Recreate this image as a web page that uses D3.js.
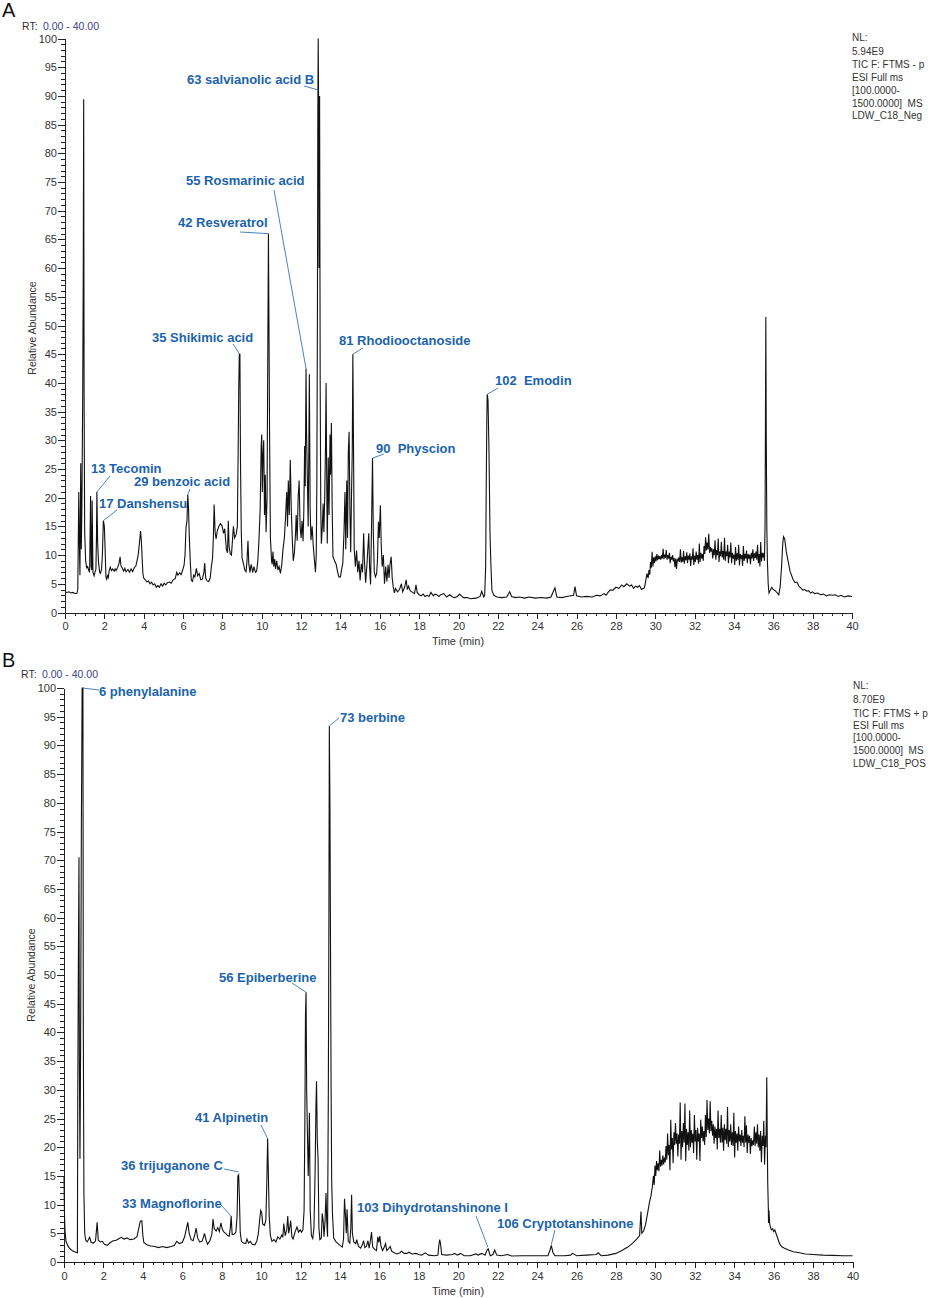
<!DOCTYPE html>
<html>
<head>
<meta charset="utf-8">
<title>TIC chromatograms</title>
<script src="https://cdn.jsdelivr.net/npm/d3@7/dist/d3.min.js"></script>
<style>
  html, body { margin: 0; padding: 0; background: #fff; }
  text { font-family: "Liberation Sans", Arial, sans-serif; }
  .axis path, .axis line { stroke: #222; stroke-width: 1; shape-rendering: crispEdges; }
  .axis text { font-size: 11px; fill: #333; }
  .trace { fill: none; stroke: #111; stroke-width: 1.1; stroke-linejoin: miter; }
  .lab { font-size: 13px; font-weight: bold; fill: #1b63ad; }
  .leader { stroke: #1b63ad; stroke-width: 0.8; fill: none; }
  .info { font-size: 10px; fill: #333; }
</style>
</head>
<body>
<svg id="chart" width="934" height="1298"></svg>
<script>
// panel A, negative mode: [rt, abundance]
var traceA0to5 = [[0,3.6],[0.1,3.5],[0.2,3.6],[0.3,3.4],[0.4,3.5],[0.5,3.3],[0.6,3.3],[0.65,4],[0.7,21],[0.73,12],[0.76,6.5],[0.8,26],[0.83,11],[0.86,19],[0.9,38],[0.93,61],[0.95,89.4],[0.97,38],[1,14],[1.05,9],[1.1,7.8],[1.15,8],[1.2,7.4],[1.25,7],[1.3,20.3],[1.33,8],[1.36,7.4],[1.38,19.5],[1.42,7],[1.48,6.4],[1.52,7],[1.57,7.5],[1.6,13],[1.62,21],[1.66,12],[1.7,9],[1.76,7],[1.8,6.8],[1.86,7.6],[1.9,10],[1.95,16],[2,15],[2.03,12],[2.08,6.2],[2.12,5.8],[2.16,6.4],[2.2,6.1],[2.25,7.4],[2.3,7.9],[2.36,7.3],[2.42,7.6],[2.5,7.2],[2.55,7.6],[2.6,7.3],[2.68,7.9],[2.75,8.6],[2.8,9.7],[2.84,8.2],[2.9,7.8],[2.98,7.2],[3.04,7.7],[3.1,7.1],[3.2,7.5],[3.28,7],[3.36,7.6],[3.44,7.1],[3.52,7.8],[3.6,8.1],[3.66,9],[3.72,10],[3.78,12],[3.84,14.2],[3.88,12.6],[3.92,9.5],[3.96,6.8],[4,6],[4.08,5.7],[4.16,5.3],[4.24,5.5],[4.32,5],[4.4,5.3],[4.48,4.8],[4.56,5],[4.64,4.4],[4.72,4.7],[4.8,4.4],[4.88,5],[4.96,4.6],[5.04,5.1],[5.12,4.8],[5.2,5.2],[5.3,5.3],[5.4,5.1],[5.5,5.7],[5.6,5.9],[5.68,7],[5.74,6.5],[5.82,6.9],[5.9,6.6],[5.98,7.4],[6.05,8.2],[6.1,10],[6.15,14.8],[6.2,16],[6.24,20.5],[6.28,18],[6.32,13],[6.37,8.6],[6.42,5.6],[6.48,5.4],[6.54,6.5],[6.6,6.2],[6.68,7.7],[6.74,6.4],[6.82,6.8],[6.9,5.7],[6.98,5.8],[7.06,7],[7.1,8.6],[7.15,6],[7.22,5.5],[7.3,5.4],[7.38,6],[7.44,8],[7.5,9.5],[7.54,13],[7.58,18.8],[7.63,14],[7.68,12.8],[7.74,14.2],[7.82,15],[7.9,15.5],[7.98,15.1],[8.06,13.8],[8.12,14.6],[8.2,11],[8.26,10.4],[8.3,16],[8.34,11.5],[8.4,10.2],[8.46,10],[8.52,13],[8.56,15],[8.62,13],[8.7,13.6],[8.76,15],[8.8,28],[8.83,39],[8.86,45],[8.89,45],[8.92,26],[8.96,14],[9,9.5],[9.06,8.6],[9.14,7.4],[9.2,7.1],[9.25,9],[9.3,12.5],[9.34,8.6],[9.4,7],[9.46,8.4],[9.54,7],[9.6,8],[9.68,7],[9.74,7.2]];
var traceA10to18 = [[9.8,9],[9.85,12],[9.92,18],[9.97,29],[10,31],[10.03,21],[10.06,27],[10.1,30],[10.14,17],[10.18,24],[10.22,14],[10.27,20],[10.31,47],[10.34,66],[10.37,48],[10.4,30],[10.44,13],[10.5,9],[10.53,8.4],[10.57,10.6],[10.61,8],[10.66,9.3],[10.7,7.6],[10.76,9],[10.82,7.4],[10.88,8],[10.95,6.8],[11.02,8.4],[11.08,11],[11.15,13],[11.2,16],[11.27,21],[11.31,15],[11.35,23],[11.4,17],[11.45,26.6],[11.5,18],[11.55,13],[11.6,9],[11.66,10.4],[11.72,14],[11.75,17],[11.8,12.5],[11.85,20],[11.9,23],[11.95,15],[12,13],[12.05,16],[12.1,12.4],[12.14,18],[12.18,29],[12.21,22],[12.25,42.5],[12.28,31],[12.32,23],[12.36,15],[12.39,27],[12.42,41.5],[12.46,18],[12.5,12.6],[12.56,15],[12.62,11.5],[12.68,9],[12.73,7],[12.77,10],[12.8,22.5],[12.83,52],[12.85,87],[12.87,100],[12.89,88],[12.91,60],[12.94,90],[12.97,40],[13,18],[13.03,12],[13.08,15],[13.12,19],[13.16,14],[13.2,20],[13.24,29],[13.27,40],[13.3,24],[13.33,12],[13.38,27],[13.42,17],[13.47,31],[13.5,24],[13.54,33],[13.58,18],[13.62,9.7],[13.7,9],[13.78,8.4],[13.86,7],[13.92,6.2],[14,6.2],[14.06,7.5],[14.12,8.6],[14.18,14],[14.23,21],[14.27,11],[14.32,23],[14.36,13],[14.4,28],[14.44,31.5],[14.48,18],[14.52,10.5],[14.56,20],[14.6,28],[14.63,45],[14.66,31],[14.7,11],[14.76,8],[14.82,10.8],[14.88,7],[14.94,9],[15,5.6],[15.06,8.5],[15.12,7],[15.18,13.8],[15.22,9],[15.28,5.2],[15.34,8],[15.39,11],[15.44,13.8],[15.48,8],[15.53,4.9],[15.58,15],[15.63,26.9],[15.67,14],[15.72,7],[15.78,6.2],[15.84,6.8],[15.88,9],[15.93,15.8],[15.97,13],[16.03,18.7],[16.07,12],[16.12,8],[16.18,10],[16.24,5],[16.3,8],[16.36,5.4],[16.42,8.3],[16.47,6],[16.52,8.4],[16.58,9.7],[16.63,6],[16.68,4.5],[16.74,3.4],[16.8,4.2],[16.9,3.6],[17,4],[17.1,5],[17.16,3.6],[17.26,4.4],[17.34,5.7],[17.4,4],[17.46,4.6],[17.54,3.8],[17.66,3.5],[17.76,3.3],[17.84,4.8],[17.9,3.5],[18,3.1]];
var traceA18to30 = [[18.1,2.9],[18.2,3.2],[18.3,2.8],[18.4,3],[18.5,2.8],[18.6,3.5],[18.72,2.9],[18.8,3.2],[18.9,3.1],[19,2.8],[19.1,3.1],[19.25,3.3],[19.4,2.7],[19.55,3.1],[19.7,2.7],[19.8,2.6],[19.95,2.8],[20.05,3.2],[20.25,2.6],[20.45,2.6],[20.6,2.4],[20.9,2.5],[21.1,2.8],[21.18,3.7],[21.28,2.7],[21.33,3],[21.38,8],[21.41,22],[21.44,34],[21.46,38],[21.5,37],[21.55,28],[21.6,14],[21.65,8],[21.7,3.8],[21.8,3],[21.95,2.7],[22.2,2.6],[22.45,2.7],[22.6,3.6],[22.7,2.8],[22.9,2.6],[23.1,2.7],[23.35,2.5],[23.6,2.7],[23.9,2.5],[24.2,2.6],[24.5,2.5],[24.7,2.7],[24.9,4.3],[25,2.7],[25.25,2.6],[25.5,2.8],[25.85,3],[25.92,4.5],[26,2.9],[26.25,2.7],[26.5,2.8],[26.8,2.7],[27,3],[27.2,2.9],[27.4,3.3],[27.5,3],[27.6,3.5],[27.7,3.9],[27.85,3.9],[28,4.4],[28.15,4.2],[28.3,4.8],[28.4,4.5],[28.55,5],[28.7,4.6],[28.8,4.8],[28.9,4.2],[29,4.6],[29.1,4.4],[29.2,4.7],[29.3,4],[29.45,4.3],[29.52,5.6],[29.58,6.8],[29.64,6]];
var traceANoise = [[29.68,7.4],[29.72,6.6],[29.76,8.8],[29.8,7.8],[29.84,10.6],[29.88,8],[29.92,9.6],[29.96,8.6],[30,9.8],[30.04,8.9],[30.08,10.2],[30.12,9.1],[30.16,9.9],[30.2,9.3],[30.24,9.8],[30.28,9.2],[30.32,10],[30.36,9.4],[30.4,11.1],[30.44,9.3],[30.48,10.1],[30.52,9.5],[30.56,10.9],[30.6,9.2],[30.64,10],[30.68,9.4],[30.72,10.4],[30.76,8.6],[30.8,9.7],[30.84,9.2],[30.88,10],[30.92,8.9],[30.96,9.5],[31,7.9],[31.04,9.4],[31.08,7.6],[31.12,9.2],[31.16,9],[31.2,9.6],[31.24,8.8],[31.28,11],[31.32,8.7],[31.36,9.6],[31.4,8.8],[31.44,10.7],[31.48,8.5],[31.52,9.8],[31.56,9.1],[31.6,10.5],[31.64,8.6],[31.68,9.9],[31.72,9.2],[31.76,10.3],[31.8,8.1],[31.84,9.8],[31.88,9.2],[31.92,11.2],[31.96,8.3],[32,9.9],[32.04,8.8],[32.08,10.6],[32.12,9.2],[32.16,10],[32.2,8.5],[32.24,12],[32.28,8.8],[32.32,10.4],[32.36,9.4],[32.4,10.2],[32.44,9],[32.48,11.6],[32.52,10.2],[32.56,13.1],[32.6,10.8],[32.64,12.2],[32.68,11],[32.72,13.7],[32.76,10.4],[32.8,11.4],[32.84,10.6],[32.88,11.2],[32.92,9.4],[32.96,11],[33,10],[33.04,12.6],[33.08,9.2],[33.12,10.9],[33.16,10],[33.2,12.9],[33.24,8.8],[33.28,10.6],[33.32,9.8],[33.36,12.3],[33.4,9.6],[33.44,10.7],[33.48,9.2],[33.52,13],[33.56,9],[33.6,10.6],[33.64,9.8],[33.68,11.8],[33.72,8.6],[33.76,10.6],[33.8,9.6],[33.84,12.2],[33.88,8.6],[33.92,10.4],[33.96,9.4],[34,10.1],[34.04,8.3],[34.08,11.4],[34.12,9],[34.16,10.3],[34.2,9.2],[34.24,11.8],[34.28,8.2],[34.32,10.2],[34.36,9.4],[34.4,10],[34.44,8.1],[34.48,11.6],[34.52,9],[34.56,10.2],[34.6,9.4],[34.64,10.8],[34.68,8.6],[34.72,10.2],[34.76,9.4],[34.8,10.1],[34.84,8.4],[34.88,10.4],[34.92,9.4],[34.96,11],[35,9],[35.04,10.3],[35.08,9.5],[35.12,10.6],[35.16,9.2],[35.2,11.8],[35.24,8.6],[35.28,10.2],[35.32,8],[35.36,12.3],[35.4,8.9],[35.44,10.4],[35.48,9.6],[35.52,10.4],[35.55,9]];
var traceAEnd = [[35.58,15],[35.6,32],[35.62,51.5],[35.64,32],[35.67,15],[35.7,9],[35.74,5],[35.78,3.4],[35.85,3.9],[35.92,4.4],[36,4],[36.1,3.8],[36.2,3.4],[36.28,3.1],[36.35,4.5],[36.42,8],[36.48,12],[36.52,13.2],[36.58,12.8],[36.66,10.6],[36.75,9],[36.85,7.2],[37,5.8],[37.1,5.2],[37.2,5.3],[37.3,4.6],[37.4,4.3],[37.5,3.9],[37.6,4],[37.7,3.7],[37.8,3.8],[37.9,3.4],[38,3.6],[38.1,3.3],[38.25,3.4],[38.4,3.1],[38.55,3.2],[38.7,2.9],[38.85,3.1],[39,3],[39.15,3.1],[39.3,2.8],[39.45,3],[39.6,2.7],[39.8,2.9],[40,2.8]];

// panel B, positive mode: [rt, abundance]
var traceB0to10 = [[0,15],[0.02,9],[0.05,5.5],[0.1,3.6],[0.2,2.8],[0.3,2.3],[0.45,1.9],[0.6,1.7],[0.68,1.6],[0.7,30],[0.73,53],[0.76,70.5],[0.78,35],[0.81,18],[0.84,36],[0.88,75],[0.92,100],[0.96,100],[0.98,40],[1.01,12],[1.05,5],[1.1,3.8],[1.18,3.5],[1.3,4.3],[1.38,3.4],[1.5,3.3],[1.6,3.7],[1.68,6.9],[1.74,3.8],[1.85,3.5],[1.95,3.6],[2.05,3.1],[2.2,2.9],[2.35,3.4],[2.5,3.7],[2.65,3.8],[2.8,4.1],[2.9,4.3],[3.05,4],[3.2,4.2],[3.35,3.9],[3.55,4],[3.7,4.4],[3.8,6],[3.87,7.1],[3.95,7.2],[4,4.6],[4.05,3.4],[4.2,3],[4.4,2.8],[4.6,2.7],[4.8,2.5],[5,2.7],[5.2,2.5],[5.45,2.7],[5.6,2.9],[5.72,3.6],[5.85,3.2],[6,3.4],[6.12,4.4],[6.22,6],[6.28,6.9],[6.35,5],[6.45,3.9],[6.55,3.7],[6.65,5],[6.7,5.9],[6.78,4.2],[6.88,3.5],[7,3.6],[7.08,4.4],[7.13,5],[7.2,3.9],[7.28,3.1],[7.4,3.7],[7.5,4.8],[7.56,7.5],[7.62,5.8],[7.72,5.4],[7.8,6],[7.88,5.3],[7.96,6.8],[8.04,5.6],[8.12,5.2],[8.2,5],[8.3,4.6],[8.38,4.5],[8.44,6],[8.48,8],[8.53,4.8],[8.62,4.8],[8.72,5.2],[8.78,8],[8.82,15],[8.86,15.2],[8.9,11],[8.94,5.2],[9,3.6],[9.1,3.3],[9.22,3.2],[9.28,4],[9.36,3.3],[9.45,3.6],[9.55,3.1],[9.68,3],[9.78,3.6],[9.86,5],[9.93,7.5],[9.98,9],[10.03,8.6],[10.08,6.6],[10.17,6.4],[10.24,7.3],[10.29,14],[10.33,21.5],[10.37,15],[10.41,8],[10.47,4.6]];
var traceB10to18 = [[10.55,3.6],[10.65,3.9],[10.75,3.5],[10.85,4.4],[10.95,4],[11.05,4.7],[11.1,4.3],[11.15,6.7],[11.22,4.6],[11.3,5.6],[11.35,8],[11.4,5],[11.46,6.2],[11.5,7.2],[11.56,4.4],[11.62,4],[11.72,5.2],[11.82,6.1],[11.9,5.2],[11.98,5.6],[12.05,5.2],[12.12,5.6],[12.18,9],[12.22,25],[12.25,43],[12.28,47],[12.31,30],[12.35,22],[12.39,15],[12.42,20],[12.45,26],[12.49,9],[12.55,4.6],[12.62,4.1],[12.68,6],[12.74,16],[12.78,27],[12.81,31.5],[12.85,21],[12.89,18],[12.93,6],[12.98,3.9],[13.05,4.1],[13.1,8.5],[13.15,7],[13.19,4.4],[13.24,7],[13.29,12],[13.33,7],[13.37,4.4],[13.41,30],[13.44,62],[13.46,93.4],[13.49,80],[13.52,55],[13.55,30],[13.58,14],[13.62,8.4],[13.68,4.2],[13.78,3.6],[13.9,3.2],[14,2.9],[14.12,2.6],[14.18,4],[14.23,11],[14.28,8],[14.32,5],[14.36,9.2],[14.42,3.6],[14.5,3.3],[14.55,6],[14.59,11.7],[14.63,5],[14.7,3.5],[14.8,3.2],[14.85,3.9],[14.94,2.7],[15.05,2.4],[15.13,3],[15.2,3.7],[15.26,2.5],[15.34,2.7],[15.42,3.7],[15.48,2.4],[15.55,3.8],[15.6,5.2],[15.66,2.6],[15.76,2.2],[15.85,2],[15.92,4.4],[15.97,3.4],[16.02,4.5],[16.08,2.8],[16.16,2],[16.25,2.6],[16.31,3.2],[16.38,2],[16.46,2.3],[16.55,2.7],[16.62,1.9],[16.75,1.6],[16.9,1.4],[17.05,1.6],[17.12,1.9],[17.25,1.5],[17.4,1.5],[17.5,1.7],[17.65,1.4],[17.85,1.5],[18,1.3]];
var traceB18to29 = [[18.15,1.2],[18.32,1.6],[18.5,1.2],[18.8,1.1],[18.97,1.2],[19.02,3],[19.06,3.9],[19.1,3.2],[19.16,1.3],[19.4,1.2],[19.7,1.3],[19.82,1.5],[19.95,1.2],[20.12,1.5],[20.3,1.1],[20.6,1.1],[20.9,1.4],[21,1.2],[21.2,1.5],[21.36,1.2],[21.46,2.1],[21.52,2.3],[21.62,1.1],[21.76,1.3],[21.85,2.1],[21.95,1.2],[22.2,1.1],[22.5,1.3],[22.7,1.05],[23.2,1.1],[23.6,1.1],[24.2,1.1],[24.55,1.1],[24.65,2],[24.72,2.9],[24.8,1.7],[24.9,1.1],[25.4,1.1],[25.7,1.2],[25.8,1.5],[26,1.1],[26.5,1.2],[27,1.3],[27.1,1.6],[27.25,1.1],[27.6,1.2],[28,1.5],[28.3,2],[28.6,2.6],[28.85,3.3],[29.05,4],[29.2,4.6],[29.27,8.8],[29.31,5],[29.4,5.4],[29.5,6.5],[29.6,8.4]];
var traceBNoise = [[29.7,10.4],[29.78,11.6],[29.85,13.2],[29.9,15],[29.94,13.4],[29.98,16.8],[30.02,15],[30.06,17.6],[30.1,16],[30.14,17.2],[30.18,15.8],[30.22,19.4],[30.26,16.6],[30.3,17.8],[30.34,16.8],[30.38,18.6],[30.42,17],[30.46,18.2],[30.5,17.4],[30.54,20.2],[30.58,17.8],[30.62,22.4],[30.66,18.6],[30.7,20.4],[30.74,16],[30.78,24.8],[30.82,19.6],[30.86,21.6],[30.9,17.2],[30.94,22.6],[30.98,20.4],[31.02,24.2],[31.06,20.6],[31.1,22.4],[31.14,18.4],[31.18,22.2],[31.22,20.6],[31.26,27.8],[31.3,17.8],[31.34,22.8],[31.38,20],[31.42,24.2],[31.46,20.8],[31.5,27.6],[31.54,17.6],[31.58,23.2],[31.62,20.4],[31.66,22.6],[31.7,19.4],[31.74,26.4],[31.78,20],[31.82,23],[31.86,20.8],[31.9,22.4],[31.94,19],[31.98,25.6],[32.02,21],[32.06,23],[32.1,17.8],[32.14,23.4],[32.18,21],[32.22,22.4],[32.26,17.6],[32.3,24.8],[32.34,21.6],[32.38,23.6],[32.42,21],[32.46,22.8],[32.5,20.4],[32.54,25.6],[32.58,21.8],[32.62,28.2],[32.66,23],[32.7,25],[32.74,22.4],[32.78,28],[32.82,22.8],[32.86,24.6],[32.9,22],[32.94,24],[32.98,20.6],[33.02,23.6],[33.06,21.6],[33.1,23.2],[33.14,19.6],[33.18,26.4],[33.22,21.6],[33.26,23.2],[33.3,20.8],[33.34,25.6],[33.38,20.8],[33.42,23.4],[33.46,19.4],[33.5,24],[33.54,21.2],[33.58,23.2],[33.62,20.6],[33.66,27],[33.7,20],[33.74,23],[33.78,21],[33.82,24],[33.86,20.4],[33.9,22.6],[33.94,20.2],[33.98,26],[34.02,18.2],[34.06,22.8],[34.1,20.8],[34.14,22.4],[34.18,19.4],[34.22,23.6],[34.26,21],[34.3,22.2],[34.34,20.2],[34.38,23],[34.42,20.8],[34.46,22],[34.5,20],[34.54,25.4],[34.58,20.8],[34.62,23.8],[34.66,19],[34.7,22.2],[34.74,20.8],[34.78,22],[34.82,18.8],[34.86,21.6],[34.9,20.2],[34.94,21.2],[34.98,20.4],[35.02,23.6],[35.06,20.2],[35.1,22.6],[35.14,20.6],[35.18,24],[35.22,20],[35.26,22.2],[35.3,19.4],[35.34,22.8],[35.38,17.4],[35.42,22],[35.46,20.2],[35.5,24.6],[35.54,17],[35.58,22],[35.61,20]];
var traceBEnd = [[35.63,25],[35.65,32.2],[35.68,20],[35.7,13.7],[35.73,9.4],[35.74,6.8],[35.76,9],[35.8,6.6],[35.88,5.6],[35.95,5.8],[36,5.3],[36.06,5.6],[36.14,4.8],[36.22,4],[36.3,3.2],[36.4,2.7],[36.55,2.4],[36.75,2.1],[37,1.8],[37.3,1.6],[37.6,1.4],[38,1.3],[38.5,1.2],[39,1.15],[39.5,1.1],[40,1.1]];

var traceA = traceA0to5.concat(traceA10to18, traceA18to30, traceANoise, traceAEnd);
var traceB = traceB0to10.concat(traceB10to18, traceB18to29, traceBNoise, traceBEnd);

var yTicks = [0,5,10,15,20,25,30,35,40,45,50,55,60,65,70,75,80,85,90,95,100];
var xTicks = [0,2,4,6,8,10,12,14,16,18,20,22,24,26,28,30,32,34,36,38,40];

// compound labels and the peak each one points at
var namesA = ["63 salvianolic acid B","55 Rosmarinic acid","42 Resveratrol","35 Shikimic acid","81 Rhodiooctanoside","102  Emodin","90  Physcion","13 Tecomin","29 benzoic acid","17 Danshensu"];
var peakRtA = [12.9,12.25,10.34,8.88,14.63,21.46,15.63,1.62,6.24,1.95];
var peakAbundanceA = [91,42.5,66,45,45,38,26.9,21,20.5,16];
var namesB = ["6 phenylalanine","73 berbine","56 Epiberberine","41 Alpinetin","36 trijuganone C","33 Magnoflorine","103 Dihydrotanshinone I","106 Cryptotanshinone"];
var peakRtB = [0.94,13.46,12.28,10.33,8.86,8.48,21.5,24.72];
var peakAbundanceB = [100,93.4,47,21.5,15.7,8,2.6,3];
var infoA = ["NL:","5.94E9","TIC F: FTMS - p","ESI Full ms","[100.0000-","1500.0000]  MS","LDW_C18_Neg"];
var infoB = ["NL:","8.70E9","TIC F: FTMS + p","ESI Full ms","[100.0000-","1500.0000]  MS","LDW_C18_POS"];

// label placement in px: text x, baseline y, leader start x, y
var placeA = [[187,84,304,86],[186,185,274,190],[178,227,240,232],[152,342,233,344],[339,345,363,348],[495,385,498,388],[376,453,384,454],[91,473,110,476],[134,486,190,489],[99,508,117,510]];
var placeB = [[99,696,99,690],[340,722,339,718],[219,982,292,983],[195,1122,261,1125],[121,1170,224,1169],[122,1208,221,1205],[357,1212,476,1216],[497,1228,555,1230]];

var svg = d3.select("#chart");

function range(a, b, step) {
  var out = [];
  for (var v = a; v <= b + 1e-9; v += step) out.push(+v.toFixed(2));
  return out;
}

function drawPanel(o) {
  var x = d3.scaleLinear().domain([0, 40]).range([o.x0, o.x1]);
  var y = d3.scaleLinear().domain([0, 100]).range([o.y0, o.y1]);

  // minor ticks first, majors on top
  svg.append("g").attr("class", "axis").attr("transform", "translate(" + o.x0 + ",0)")
    .call(d3.axisLeft(y).tickValues(range(0, 100, 1)).tickSize(4).tickSizeOuter(0).tickFormat(""));
  svg.append("g").attr("class", "axis").attr("transform", "translate(0," + o.y0 + ")")
    .call(d3.axisBottom(x).tickValues(range(0, 40, 0.5)).tickSize(3).tickSizeOuter(0).tickFormat(""));
  svg.append("g").attr("class", "axis").attr("transform", "translate(" + o.x0 + ",0)")
    .call(d3.axisLeft(y).tickValues(yTicks).tickSize(7).tickSizeOuter(0).tickPadding(1));
  svg.append("g").attr("class", "axis").attr("transform", "translate(0," + o.y0 + ")")
    .call(d3.axisBottom(x).tickValues(xTicks).tickSize(6).tickSizeOuter(0).tickPadding(4));

  var line = d3.line().x(function(d) { return x(d[0]); }).y(function(d) { return y(d[1]); });
  svg.append("path").attr("class", "trace").attr("d", line(o.trace));

  o.names.forEach(function(name, i) {
    var p = o.place[i];
    svg.append("path").attr("class", "leader")
      .attr("d", "M" + p[2] + "," + p[3] + "L" + x(o.peakRt[i]) + "," + y(o.peakAb[i]));
    svg.append("text").attr("class", "lab").style("white-space", "pre")
      .attr("x", p[0]).attr("y", p[1]).text(name);
  });

  o.info.forEach(function(t, i) {
    svg.append("text").attr("class", "info").style("white-space", "pre")
      .attr("x", o.infoX).attr("y", o.infoY[i]).text(t);
  });

  svg.append("text").attr("x", 2).attr("y", o.letterY).attr("font-size", 20).attr("fill", "#111").text(o.letter);
  svg.append("text").attr("x", o.rtX).attr("y", o.rtY).attr("font-size", 10.5).attr("fill", "#333").text("RT:");
  svg.append("text").attr("x", o.rtX + 21).attr("y", o.rtY).attr("font-size", 10.5).attr("fill", "#3b4287").text("0.00 - 40.00");
  svg.append("text").attr("transform", "translate(" + o.yLabX + "," + o.yLabY + ") rotate(-90)")
    .attr("text-anchor", "middle").attr("font-size", 10.5).attr("fill", "#333").text("Relative Abundance");
  svg.append("text").attr("x", 458).attr("y", o.timeY).attr("text-anchor", "middle")
    .attr("font-size", 11).attr("fill", "#333").text("Time (min)");
}

drawPanel({ trace: traceA, names: namesA, peakRt: peakRtA, peakAb: peakAbundanceA, place: placeA,
  info: infoA, infoX: 852, infoY: [41,55,68,81,94,107,119],
  x0: 65, x1: 852, y0: 612.5, y1: 38.5, letter: "A", letterY: 17, rtX: 22, rtY: 30,
  yLabX: 36, yLabY: 328, timeY: 645 });
drawPanel({ trace: traceB, names: namesB, peakRt: peakRtB, peakAb: peakAbundanceB, place: placeB,
  info: infoB, infoX: 853, infoY: [689,703,717,729,741,754,767],
  x0: 64, x1: 852.5, y0: 1262, y1: 688, letter: "B", letterY: 667, rtX: 21, rtY: 678,
  yLabX: 35, yLabY: 975, timeY: 1295 });
</script>
</body>
</html>
